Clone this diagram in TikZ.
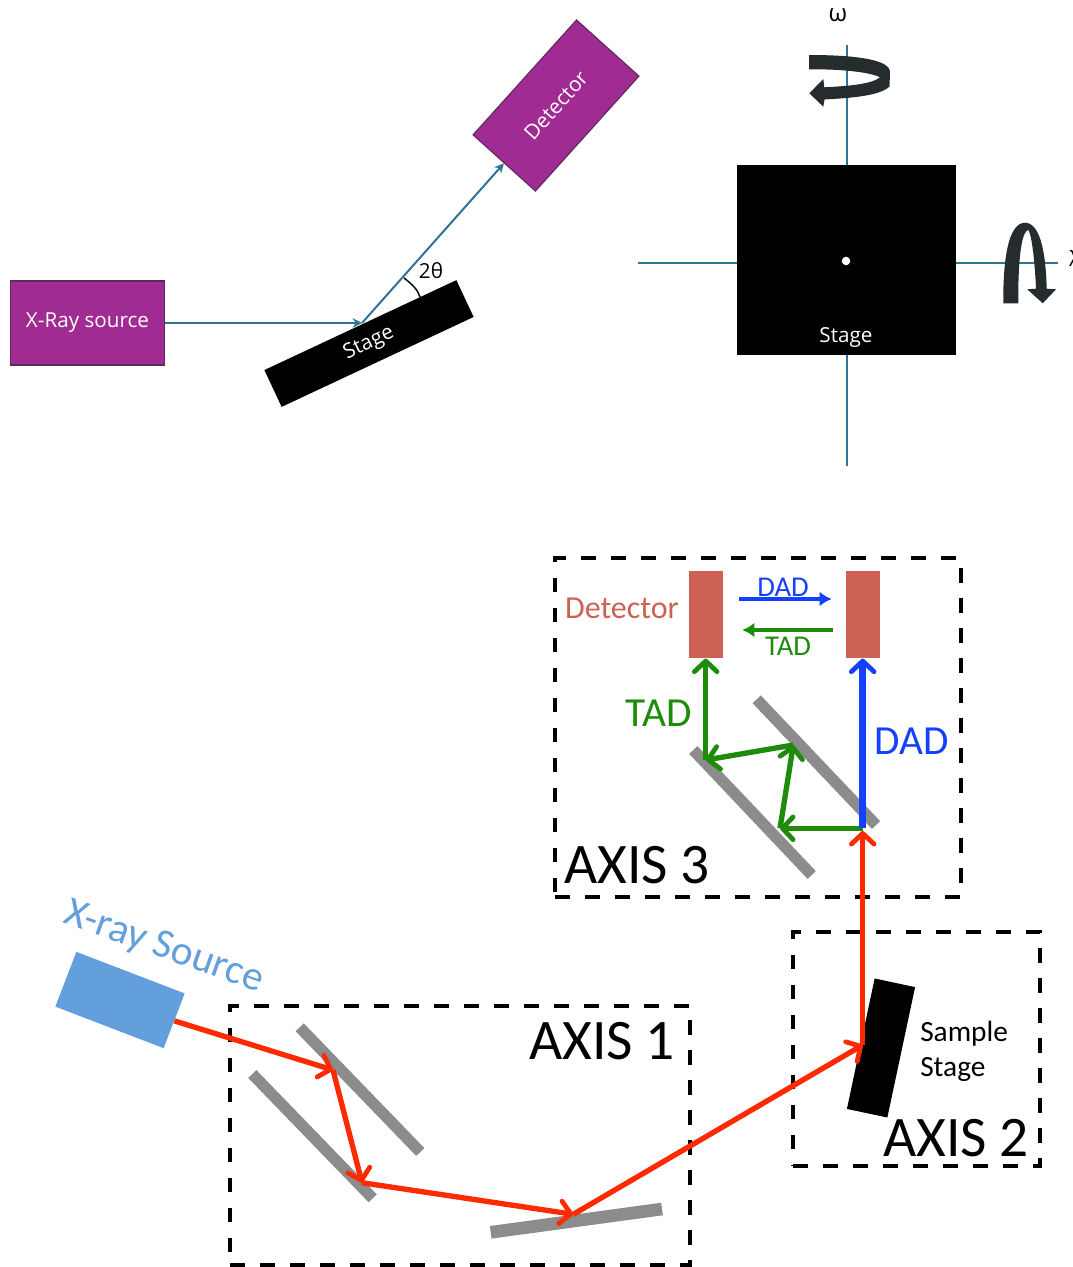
\documentclass[tikz,border=0pt]{standalone}
\usepackage{fontspec}
\setmainfont{Carlito}
\newfontfamily\upfont{Open Sans}
\usetikzlibrary{arrows.meta}
\definecolor{purp}{HTML}{A02B93}
\definecolor{purpd}{HTML}{5A2A58}
\definecolor{ray}{HTML}{2F7396}
\definecolor{redr}{HTML}{FF2A00}
\definecolor{greenr}{HTML}{1E8C0A}
\definecolor{bluer}{HTML}{1440FF}
\definecolor{barg}{HTML}{8C8C8C}
\definecolor{detr}{HTML}{CD6155}
\definecolor{srcb}{HTML}{629FDC}
\definecolor{dkarrow}{HTML}{262B2E}
\tikzset{
  px/.style={x=0.75pt,y=-0.75pt},
  purplebox/.style={draw=purpd,line width=0.8pt,fill=purp,text=white,font=\upfont\fontsize{15.5}{17}\selectfont,inner sep=0pt,anchor=center},
  blackbox/.style={fill=black,text=white,font=\upfont\fontsize{15.5}{17}\selectfont,inner sep=0pt,anchor=center},
  rayline/.style={draw=ray,line width=1.5pt},
  rayarrow/.style={rayline,-{Stealth[length=7pt,width=7pt]}},
  up/.style={font=\upfont\fontsize{15.5}{17}\selectfont,inner sep=0pt},
  axisbox/.style={draw=black,line width=3pt,dash pattern=on 11pt off 11.5pt,fill=none,inner sep=0pt},
  mirror/.style={draw=barg,line width=8.5pt},
  axislabel/.style={font=\fontsize{43}{45}\selectfont,inner sep=0pt},
  redline/.style={draw=redr,line width=4pt},
  barb/.style={line width=4pt,-{Straight Barb[length=8pt,width=17pt,round,line width=3.6pt]}},
  big/.style={font=\fontsize{31}{33}\selectfont,inner sep=0pt},
  detbox/.style={fill=detr,minimum width=25.5pt,minimum height=65.5pt,inner sep=0pt},
  thin arrow/.style={line width=3pt,-{Latex[length=9pt,width=11pt]}},
}
\begin{document}
\begin{tikzpicture}[px]
\useasboundingbox (0,0) rectangle (1073,1267);
\fill[white] (0,0) rectangle (1073,1267);
% ---------- upper left
\node[purplebox,minimum width=116pt,minimum height=63pt] (xsrc) at (87.5,323) {X-Ray source};
\node[purplebox,minimum width=116pt,minimum height=63pt,rotate=48] (det) at (556,105.5) {Detector};
\node[blackbox,minimum width=159pt,minimum height=30.5pt,rotate=25.1] (tstage) at (369,343.5) {Stage};
\coordinate (hit) at (362,323);
\coordinate (arcA) at (404,278);
\coordinate (arcB) at (420,297);
\draw[rayarrow] (xsrc.east) -- (hit);
\draw[rayarrow] (hit) -- (det.west);
\draw[black,line width=1.1pt] (arcA) .. controls (412,284) and (418,290) .. (arcB);
\node[up] (twotheta) at (431,271) {2θ};
% ---------- upper right
\node[fill=black,minimum width=164pt,minimum height=142.5pt,inner sep=0pt] (sq) at (846.5,260) {};
\node[text=white,up] (sqlabel) at (846,337) {Stage};
\fill[white] (846,261) circle (3.2pt);
\coordinate (vtop) at (847,45);
\coordinate (vbot) at (847,466);
\coordinate (hleft) at (638,263);
\coordinate (hright) at (1058,263);
\draw[rayline] (vtop) -- (vtop |- sq.north);
\draw[rayline] (vbot) -- (vbot |- sq.south);
\draw[rayline] (hleft) -- (hleft -| sq.west);
\draw[rayline] (hright) -- (hright -| sq.east);
\node[font=\upfont\fontsize{18}{20}\selectfont,inner sep=0pt] (omega) at (838,15) {ω};
\node[up] (chi) at (1075,258) {χ};
\fill[dkarrow] (809,55) .. controls (840,55) and (890,57) .. (890,72)
  -- (889.5,86.5) .. controls (880,96) and (850,98) .. (824.5,99.5)
  -- (823.3,106.7) -- (809.3,93.3) -- (823.3,79) -- (824.3,87.3)
  .. controls (850,86) and (872,84) .. (880,77.3)
  .. controls (870,72) and (840,69) .. (809,69.3) -- cycle;
\fill[dkarrow] (1003.3,303.3) -- (1018.3,303.3)
  .. controls (1018,270) and (1020,232) .. (1028.3,230)
  .. controls (1032,235) and (1035,265) .. (1036,288.7)
  -- (1027.3,289.3) -- (1042.7,303.3) -- (1056,289.3) -- (1046.7,288.7)
  .. controls (1046,260) and (1042,223) .. (1025,222.7)
  .. controls (1008,223) and (1003,260) .. (1003.3,303.3) -- cycle;
% ---------- lower: boxes
\node[axisbox,minimum width=304.5pt,minimum height=254pt] (ax3) at (758,727.5) {};
\node[axisbox,minimum width=185pt,minimum height=175.5pt] (ax2) at (916.5,1049) {};
\node[axisbox,minimum width=345pt,minimum height=194pt] (ax1) at (460,1135.5) {};
\node[axislabel] (ax3l) at (637,865) {AXIS 3};
\node[axislabel] (ax2l) at (956,1138) {AXIS 2};
\node[axislabel] (ax1l) at (602,1041) {AXIS 1};
% mirrors
\draw[mirror] (299.7,1027.3) -- (420.3,1152);
\draw[mirror] (252.3,1074) -- (372.7,1198.3);
\draw[draw=barg,line width=9.5pt] (490.7,1232.3) -- (662,1209);
\draw[mirror] (756.7,699.3) -- (876,825);
\draw[mirror] (693.3,750) -- (811.7,875);
% source and stage
\node[fill=srcb,minimum width=87pt,minimum height=44pt,inner sep=0pt,rotate=-21] (lsrc) at (120,1000) {};
\node[text=srcb,font=\fontsize{31}{33}\selectfont,inner sep=0pt,rotate=-19.5] (lsrcl) at (164,948) {X-ray Source};
\node[fill=black,minimum width=100pt,minimum height=31pt,inner sep=0pt,rotate=78] (sstage) at (881,1048) {};
\node[font=\fontsize{22}{26}\selectfont,inner sep=0pt,align=left,anchor=west] (sstagel) at (920,1051) {Sample\\Stage};
% red beam
\coordinate (r1) at (333,1070);
\coordinate (r2) at (362,1182.7);
\coordinate (r3) at (573.3,1214.3);
\coordinate (r4) at (862.7,1045);
\coordinate (r5) at (862.7,831);
\draw[redline,barb] (lsrc.east) -- (r1);
\draw[redline,barb] (r1) -- (r2);
\draw[redline,barb] (r2) -- (r3);
\draw[redline,barb] (r3) -- (r4);
\draw[redline,barb] (r4) -- (r5);
% detectors
\node[detbox] (d1) at (706,614.7) {};
\node[detbox] (d2) at (862.7,614.7) {};
\node[text=detr,font=\fontsize{24}{26}\selectfont,inner sep=0pt] (dl) at (622,608) {Detector};
% green and blue
\coordinate (g0) at (862.7,828.3);
\coordinate (g1) at (780,828.3);
\coordinate (g2) at (793.3,745);
\coordinate (g3) at (705.7,760);
\draw[draw=greenr,barb] (g0) -- (g1);
\draw[draw=greenr,barb] (g1) -- (g2);
\draw[draw=greenr,barb] (g2) -- (g3);
\draw[draw=greenr,barb] (g3) -- (g3 |- d1.south);
\draw[draw=bluer,barb,line width=5pt] (g0) -- (g0 |- d2.south);
\coordinate (a1) at (739.3,599);
\coordinate (a2) at (831.7,599);
\coordinate (b1) at (833.3,630);
\coordinate (b2) at (742.3,630);
\draw[draw=bluer,thin arrow] (a1) -- (a2);
\draw[draw=greenr,thin arrow] (b1) -- (b2);
\node[text=bluer,font=\fontsize{21.5}{23}\selectfont,inner sep=0pt] (dadS) at (783,587) {DAD};
\node[text=greenr,font=\fontsize{21.5}{23}\selectfont,inner sep=0pt] (tadS) at (788,646) {TAD};
\node[text=greenr,big] (tadB) at (659,713) {TAD};
\node[text=bluer,big] (dadB) at (912,741) {DAD};
\end{tikzpicture}
\end{document}
